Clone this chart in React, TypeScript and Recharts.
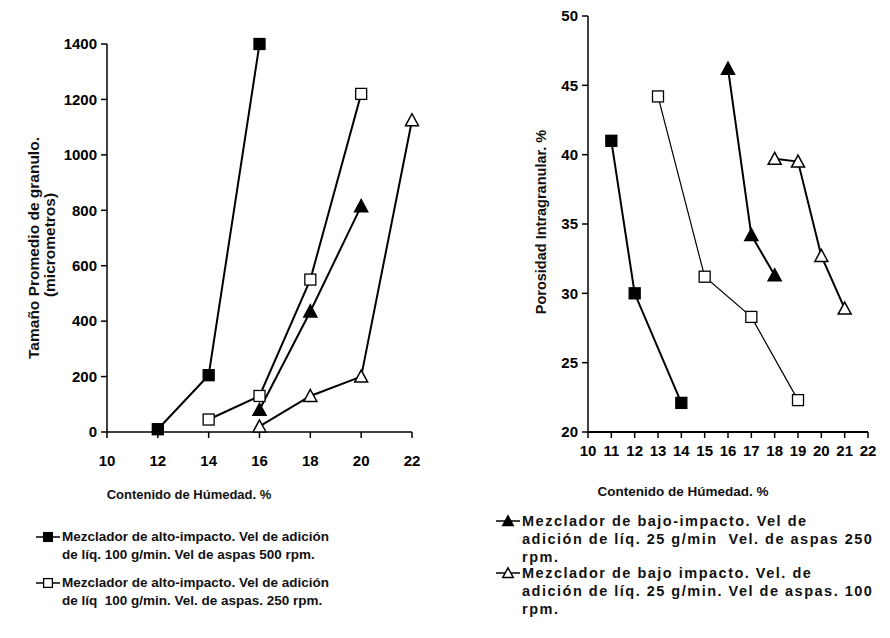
import React from 'react';
import { LineChart, Line, XAxis, YAxis } from 'recharts';

// ---- Left chart: Tamaño promedio de gránulo vs humedad ----
const altoImp500X = [12, 14, 16];
const altoImp500Size = [10, 205, 1400];
const altoImp250X = [14, 16, 18, 20];
const altoImp250Size = [45, 130, 550, 1220];
const bajoImp250X = [16, 18, 20];
const bajoImp250Size = [80, 435, 815];
const bajoImp100X = [16, 18, 20, 22];
const bajoImp100Size = [20, 130, 200, 1125];

// ---- Right chart: Porosidad intragranular vs humedad ----
const altoImp500PX = [11, 12, 14];
const altoImp500Por = [41, 30, 22.1];
const altoImp250PX = [13, 15, 17, 19];
const altoImp250Por = [44.2, 31.2, 28.3, 22.3];
const bajoImp250PX = [16, 17, 18];
const bajoImp250Por = [46.2, 34.2, 31.3];
const bajoImp100PX = [18, 19, 20, 21];
const bajoImp100Por = [39.7, 39.5, 32.7, 28.9];

const leftXTicks = [10, 12, 14, 16, 18, 20, 22];
const leftYTicks = [0, 200, 400, 600, 800, 1000, 1200, 1400];
const rightXTicks = [10, 11, 12, 13, 14, 15, 16, 17, 18, 19, 20, 21, 22];
const rightYTicks = [20, 25, 30, 35, 40, 45, 50];

const xTitle = 'Contenido de Húmedad. %';
const leftYTitle1 = 'Tamaño Promedio de granulo.';
const leftYTitle2 = '(micrometros)';
const rightYTitle = 'Porosidad Intragranular. %';

const legendLeft = [
  { shape: 'square', filled: true, lines: ['Mezclador de alto-impacto. Vel de adición', 'de líq. 100 g/min. Vel de aspas 500 rpm.'] },
  { shape: 'square', filled: false, lines: ['Mezclador de alto-impacto. Vel de adición', 'de líq  100 g/min. Vel. de aspas. 250 rpm.'] },
];
const legendRight = [
  { shape: 'triangle', filled: true, lines: ['Mezclador de bajo-impacto. Vel de', 'adición de líq. 25 g/min  Vel. de aspas 250', 'rpm.'] },
  { shape: 'triangle', filled: false, lines: ['Mezclador de bajo impacto. Vel. de', 'adición de líq. 25 g/min. Vel de aspas. 100', 'rpm.'] },
];

const zip = (xs: number[], ys: number[]) => xs.map((x, i) => ({ x, y: ys[i] }));

const FONT = '"Liberation Sans", Arial, sans-serif';

const Marker = ({ cx, cy, shape, filled, s = 1 }: any) => {
  if (cx == null || cy == null) return null;
  if (shape === 'square') {
    const h = 5.5 * s;
    return <rect x={cx - h} y={cy - h} width={2 * h} height={2 * h} fill={filled ? '#000' : '#fff'} stroke="#000" strokeWidth={1.3} />;
  }
  return (
    <polygon
      points={`${cx},${cy - 6.5 * s} ${cx - 6.5 * s},${cy + 5.5 * s} ${cx + 6.5 * s},${cy + 5.5 * s}`}
      fill={filled ? '#000' : '#fff'}
      stroke="#000"
      strokeWidth={1.5}
    />
  );
};

const dotFn = (shape: string, filled: boolean) => (props: any) => (
  <Marker key={`${props.cx}-${props.cy}-${props.index}`} cx={props.cx} cy={props.cy} shape={shape} filled={filled} />
);

const tickStyle = { fontSize: 15, fontWeight: 'bold', fill: '#000', fontFamily: FONT } as any;

const LegendEntry = ({ item, left, top, fontSize, lineHeight, markerTop, letterSpacing = 0 }: any) => (
  <div style={{ position: 'absolute', left, top, fontFamily: FONT, fontSize, fontWeight: 'bold', lineHeight: `${lineHeight}px`, letterSpacing, color: '#111' }}>
    <svg width={24} height={14} style={{ position: 'absolute', left: -26, top: markerTop }}>
      <line x1={0} y1={7} x2={24} y2={7} stroke="#000" strokeWidth={1.5} />
      <Marker cx={12} cy={7} shape={item.shape} filled={item.filled} s={0.8} />
    </svg>
    {item.lines.map((l: string, i: number) => (
      <div key={i} style={{ whiteSpace: 'pre' }}>{l}</div>
    ))}
  </div>
);

export default function App() {
  return (
    <div style={{ position: 'absolute', left: 0, top: 0, width: 890, height: 638, background: '#fff', fontFamily: FONT }}>
      {/* Left chart */}
      <div style={{ position: 'absolute', left: 0, top: 0 }}>
        <LineChart width={440} height={480} margin={{ top: 44, right: 28, left: 0, bottom: 0 }}>
          <XAxis
            type="number"
            dataKey="x"
            domain={[10, 22]}
            ticks={leftXTicks}
            tickSize={6}
            tickMargin={17}
            height={48}
            axisLine={{ stroke: '#000', strokeWidth: 1.5 }}
            tickLine={{ stroke: '#000', strokeWidth: 1.5 }}
            tick={tickStyle}
            interval={0}
          />
          <YAxis
            type="number"
            dataKey="y"
            domain={[0, 1400]}
            ticks={leftYTicks}
            width={107}
            tickSize={6}
            tickMargin={4}
            axisLine={{ stroke: '#000', strokeWidth: 1.5 }}
            tickLine={{ stroke: '#000', strokeWidth: 1.5 }}
            tick={tickStyle}
            interval={0}
          />
          <Line data={zip(altoImp500X, altoImp500Size)} dataKey="y" stroke="#000" strokeWidth={2} dot={dotFn('square', true)} isAnimationActive={false} />
          <Line data={zip(altoImp250X, altoImp250Size)} dataKey="y" stroke="#000" strokeWidth={2} dot={dotFn('square', false)} isAnimationActive={false} />
          <Line data={zip(bajoImp250X, bajoImp250Size)} dataKey="y" stroke="#000" strokeWidth={2} dot={dotFn('triangle', true)} isAnimationActive={false} />
          <Line data={zip(bajoImp100X, bajoImp100Size)} dataKey="y" stroke="#000" strokeWidth={2} dot={dotFn('triangle', false)} isAnimationActive={false} />
        </LineChart>
      </div>

      {/* Right chart */}
      <div style={{ position: 'absolute', left: 450, top: 0 }}>
        <LineChart width={440} height={480} margin={{ top: 16, right: 22, left: 0, bottom: 0 }}>
          <XAxis
            type="number"
            dataKey="x"
            domain={[10, 22]}
            ticks={rightXTicks}
            tickSize={6}
            tickMargin={7}
            height={48}
            axisLine={{ stroke: '#000', strokeWidth: 2 }}
            tickLine={{ stroke: '#000', strokeWidth: 1.5 }}
            tick={tickStyle}
            interval={0}
          />
          <YAxis
            type="number"
            dataKey="y"
            domain={[20, 50]}
            ticks={rightYTicks}
            width={138}
            tickSize={6}
            tickMargin={4}
            axisLine={{ stroke: '#000', strokeWidth: 1.5 }}
            tickLine={{ stroke: '#000', strokeWidth: 1.5 }}
            tick={tickStyle}
            interval={0}
          />
          <Line data={zip(altoImp500PX, altoImp500Por)} dataKey="y" stroke="#000" strokeWidth={2} dot={dotFn('square', true)} isAnimationActive={false} />
          <Line data={zip(altoImp250PX, altoImp250Por)} dataKey="y" stroke="#000" strokeWidth={1.2} dot={dotFn('square', false)} isAnimationActive={false} />
          <Line data={zip(bajoImp250PX, bajoImp250Por)} dataKey="y" stroke="#000" strokeWidth={2} dot={dotFn('triangle', true)} isAnimationActive={false} />
          <Line data={zip(bajoImp100PX, bajoImp100Por)} dataKey="y" stroke="#000" strokeWidth={2} dot={dotFn('triangle', false)} isAnimationActive={false} />
        </LineChart>
      </div>

      {/* Titles */}
      <svg width={890} height={638} style={{ position: 'absolute', left: 0, top: 0, pointerEvents: 'none' }}>
        <g fontFamily={FONT} fontWeight="bold" fill="#111">
          <text x={189} y={499} textAnchor="middle" fontSize={13}>{xTitle}</text>
          <text x={683} y={496} textAnchor="middle" fontSize={13.5}>{xTitle}</text>
          <text transform="translate(39,248) rotate(-90)" textAnchor="middle" fontSize={15.5}>{leftYTitle1}</text>
          <text transform="translate(55,245) rotate(-90)" textAnchor="middle" fontSize={15.5}>{leftYTitle2}</text>
          <text transform="translate(546,222) rotate(-90)" textAnchor="middle" fontSize={14.5}>{rightYTitle}</text>
        </g>
      </svg>

      {/* Legends */}
      <LegendEntry item={legendLeft[0]} left={62} top={528} fontSize={13.5} lineHeight={18} markerTop={2} />
      <LegendEntry item={legendLeft[1]} left={62} top={574} fontSize={13.5} lineHeight={18} markerTop={2} />
      <LegendEntry item={legendRight[0]} left={522} top={512} fontSize={14.5} lineHeight={18} markerTop={2} letterSpacing={1.5} />
      <LegendEntry item={legendRight[1]} left={522} top={564} fontSize={14.5} lineHeight={18} markerTop={2} letterSpacing={1.5} />
    </div>
  );
}
